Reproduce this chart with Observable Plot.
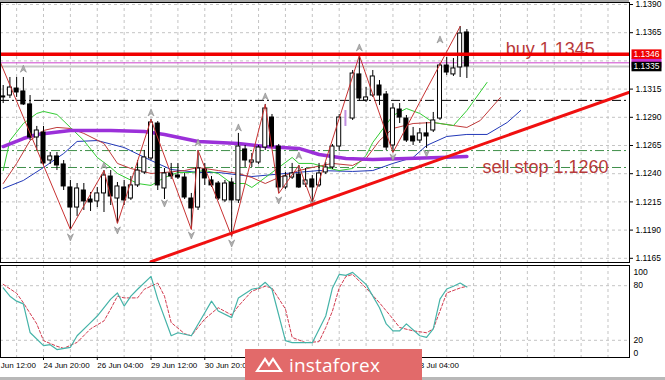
<!DOCTYPE html>
<html><head><meta charset="utf-8">
<script src="https://cdn.jsdelivr.net/npm/d3@7"></script>
<script src="https://cdn.jsdelivr.net/npm/@observablehq/plot@0.6"></script>
<style>
html,body{margin:0;padding:0;background:#fff;}
#wrap{position:relative;width:665px;height:380px;overflow:hidden;font-family:"Liberation Sans",Arial,sans-serif;}
#top{position:absolute;left:0;top:0;}
#bot{position:absolute;left:0;top:263px;}
#topline{position:absolute;left:0;top:0;width:629px;height:2px;background:#a8a8a8;}
#botline{position:absolute;left:0;top:377px;width:665px;height:3px;background:#b8b8b8;}
#logo{position:absolute;left:245px;top:349px;width:177px;height:31px;background:#e26a6a;display:flex;align-items:center;}
#logo svg{margin-left:10px;}
#logo span{color:#fff;font-family:"Open Sans",sans-serif;font-size:19px;margin-left:6px;letter-spacing:0.2px;}
</style></head>
<body><div id="wrap"><div id="top"></div><div id="bot"></div><div id="topline"></div><div id="botline"></div>
<div id="logo"><svg width="28" height="20" viewBox="0 0 28 20"><path d="M2 16 L10 4 L14 10 L18 4 L26 16 Z" fill="none" stroke="#fff" stroke-width="2.2"/></svg><span>instaforex</span></div>
</div>
<script>
// ---- candles (H4 EUR/USD), index = bar number
const open  = [1.13085,1.13093,1.13155,1.13129,1.13014,1.12721,1.12765,1.12517,1.12553,1.12482,1.12278,1.12100,1.12251,1.12171,1.12154,1.12225,1.12375,1.12180,1.12278,1.12180,1.12296,1.12411,1.12535,1.12845,1.12269,1.12402,1.12384,1.12366,1.12180,1.12100,1.12437,1.12340,1.12313,1.12163,1.12322,1.12163,1.12615,1.12499,1.12499,1.12632,1.12898,1.12641,1.12278,1.12366,1.12393,1.12304,1.12349,1.12296,1.12411,1.12455,1.12641,1.12819,1.12889,1.13280,1.13049,1.13093,1.13182,1.13102,1.12650,1.12969,1.12889,1.12730,1.12694,1.12757,1.12783,1.12889,1.13359,1.13280,1.13342,1.13652];
const high  = [1.13182,1.13253,1.13253,1.13253,1.13093,1.12819,1.12819,1.12588,1.12588,1.12517,1.12340,1.12313,1.12313,1.12233,1.12278,1.12428,1.12428,1.12322,1.12340,1.12375,1.12517,1.12606,1.12881,1.12863,1.12446,1.12491,1.12491,1.12402,1.12225,1.12606,1.12491,1.12375,1.12331,1.12340,1.12358,1.12757,1.12650,1.12579,1.12650,1.13014,1.12925,1.12659,1.12411,1.12491,1.12473,1.12446,1.12384,1.12491,1.12499,1.12659,1.12925,1.13014,1.13315,1.13448,1.13164,1.13315,1.13226,1.13129,1.13022,1.13022,1.12916,1.12810,1.12801,1.12854,1.12943,1.13377,1.13430,1.13421,1.13705,1.13678];
const low   = [1.13022,1.13067,1.13076,1.13005,1.12694,1.12606,1.12473,1.12482,1.12428,1.12251,1.11905,1.12021,1.12074,1.12065,1.12100,1.12056,1.12118,1.11959,1.12118,1.12163,1.12278,1.12393,1.12517,1.12251,1.12171,1.12349,1.12349,1.12171,1.11905,1.12074,1.12296,1.12278,1.12163,1.12145,1.11843,1.12136,1.12455,1.12455,1.12482,1.12606,1.12632,1.12225,1.12260,1.12349,1.12269,1.12278,1.12145,1.12278,1.12393,1.12437,1.12597,1.12801,1.12872,1.13040,1.13031,1.13076,1.13005,1.12606,1.12588,1.12845,1.12677,1.12650,1.12668,1.12624,1.12765,1.12872,1.13271,1.13262,1.13253,1.13244];
const close = [1.13076,1.13164,1.13120,1.13014,1.12721,1.12783,1.12491,1.12553,1.12473,1.12287,1.12100,1.12269,1.12154,1.12145,1.12225,1.12384,1.12198,1.12287,1.12163,1.12296,1.12428,1.12544,1.12854,1.12296,1.12402,1.12375,1.12366,1.12189,1.12092,1.12446,1.12358,1.12296,1.12180,1.12313,1.12163,1.12641,1.12517,1.12517,1.12632,1.12978,1.12641,1.12278,1.12375,1.12402,1.12278,1.12340,1.12278,1.12402,1.12455,1.12641,1.12898,1.12960,1.13288,1.13067,1.13076,1.13262,1.13093,1.12632,1.12978,1.12898,1.12694,1.12686,1.12757,1.12730,1.12872,1.13359,1.13297,1.13333,1.13643,1.13350];
const lilacBars = [51];

// ---- Alligator (jaw / teeth / lips) and slow MA
const jawIdx   = [0,3,6,9,11,14,18,22,25,29,32,37,42,47,52,55,58,61,63,66,69,72,75,77];
const jawP     = [1.12269,1.12340,1.12455,1.12579,1.12686,1.12694,1.12632,1.12517,1.12437,1.12411,1.12411,1.12375,1.12402,1.12428,1.12420,1.12428,1.12491,1.12544,1.12650,1.12730,1.12748,1.12748,1.12854,1.12960];
const teethIdx = [0,2,4,6,8,10,12,15,17,19,22,24,27,29,32,35,37,39,41,44,46,49,52,54,56,58,61,64,67,69,71,74];
const teethP   = [1.12313,1.12491,1.12694,1.12783,1.12810,1.12801,1.12757,1.12668,1.12491,1.12446,1.12402,1.12411,1.12428,1.12455,1.12428,1.12402,1.12366,1.12313,1.12366,1.12428,1.12455,1.12491,1.12473,1.12535,1.12694,1.12801,1.12845,1.12854,1.12827,1.12810,1.12872,1.13076];
const lipsIdx  = [0,1,3,5,6,8,10,12,14,16,17,20,22,24,26,28,30,32,34,36,37,39,41,43,44,46,48,50,52,54,55,58,60,62,64,67,69,72];
const lipsP    = [1.12428,1.12694,1.12845,1.12934,1.12952,1.12925,1.12810,1.12694,1.12544,1.12455,1.12402,1.12313,1.12296,1.12366,1.12411,1.12411,1.12428,1.12402,1.12313,1.12313,1.12278,1.12366,1.12455,1.12544,1.12491,1.12491,1.12455,1.12428,1.12446,1.12561,1.12677,1.12916,1.12978,1.12934,1.12854,1.12827,1.12960,1.13209];
const maIdx    = [0,3,5,10,16,21,24,29,35,39,44,47,51,55,60,65,69];
const maP      = [1.12641,1.12712,1.12748,1.12783,1.12783,1.12774,1.12748,1.12686,1.12668,1.12641,1.12624,1.12570,1.12535,1.12526,1.12535,1.12544,1.12553];

// ---- ZigZag and fractals
const zzIdx = [-1,10,15,17,22,28,29,34,39,41,44,46,53,58,68];
const zzP   = [1.13470,1.11905,1.12428,1.11959,1.12881,1.11905,1.12606,1.11843,1.13014,1.12225,1.12473,1.12145,1.13448,1.12588,1.13705];
const fracUpIdx = [-1,3,15,22,29,35,39,44,53,65];
const fracUpP   = [1.13519,1.13331,1.12473,1.12943,1.12677,1.12810,1.13085,1.12561,1.13519,1.13590];
const fracDnIdx = [10,17,24,28,34,41,46,58,63];
const fracDnP   = [1.11835,1.11897,1.12136,1.11852,1.11781,1.12163,1.12136,1.12544,1.12579];

// ---- levels, trend line, notes
const buyLevel = [1.1346];
const magentaLevel = [1.13383];
const bidLevel = [1.1335];
const pivotLevel = [1.1305];
const sellLevels = [1.12605, 1.12455];
const trendIdx = [22, 95];
const trendP   = [1.1162, 1.13161];
const noteIdx  = [81.4, 80.7];
const noteP    = [1.1350, 1.12455];
const noteText = ["buy 1.1345", "sell stop 1.1260"];
const boxP     = [1.13383, 1.1346, 1.1335];
const boxText  = ["1.1338", "1.1346", "1.1335"];

// ---- axes
const priceTicks  = [1.1165,1.1190,1.1215,1.1240,1.1265,1.1290,1.1315,1.1340,1.1365,1.1390];
const priceLabels = [1.1165,1.1190,1.1215,1.1240,1.1265,1.1290,1.1315,1.1365,1.1390];
const timeIdx    = [-2,6,14,22,30,62];
const timeLabels = ["23 Jun 12:00","24 Jun 20:00","26 Jun 04:00","29 Jun 12:00","30 Jun 20:00","8 Jul 04:00"];

// ---- Stochastic
const kIdx = [0,1,2,3,4,6,7,8,10,11,13,14,16,17,18,19,20,22,23,25,26,28,30,31,32,34,35,37,38,39,40,42,43,45,46,48,49,50,51,52,54,56,57,58,59,60,62,63,64,65,66,67,68,69];
const kVal = [77.5,68.5,63,60,28.6,14.1,15.2,9.8,12.3,25,39.5,46.7,65.2,72,57.6,68.5,76.1,90.2,65.2,25,28.3,25,50.3,63,52.2,44.9,66.6,76.1,77.5,83.7,76.1,19.6,17.4,17.4,17.4,46.7,77.5,92.4,91.3,94.6,81.5,55.8,38,30.4,30.4,38,25,23.2,32.6,65.2,76.4,79.4,82.9,78.6];
const dIdx = [0,2,3,5,6,8,9,11,13,15,16,17,18,20,21,23,24,25,27,28,30,32,34,35,37,39,40,42,43,45,47,48,49,50,51,52,54,56,58,59,61,63,64,65,66,68,69];
const dVal = [81.5,71.7,61.2,38,19.6,13.4,11.2,17.7,32.6,41.3,54.4,68.5,66.6,66.6,76.1,82.9,68.5,39.5,27.2,25,43.5,55.8,47.8,57.6,73.9,79.4,77.5,54.4,23.2,17.4,18.5,34,52.2,77.5,90.2,92.4,77.5,61.2,43.5,34,30.4,28.3,32.6,52.2,72,77.5,79.4];
const stochGrid = [80, 20];

// ---------------- build
const pts = (xs, ys) => xs.map((x, k) => ({i: x, p: ys[k]}));
const candles = open.map((o, i) => ({i, o, h: high[i], l: low[i], c: close[i]}));
const normal = candles.filter(d => !lilacBars.includes(d.i));
const bull = normal.filter(d => d.c >= d.o), bear = normal.filter(d => d.c < d.o);
const lilac = candles.filter(d => lilacBars.includes(d.i));
const xDomain = [-0.4, 93.2];
const vGrid = d3.range(2, 93, 4);
const font = "Liberation Sans, Arial, sans-serif";

const arrowUp = {draw(ctx, size){ const s = Math.sqrt(size)/2; ctx.moveTo(0,-s); ctx.lineTo(s*0.85,s); ctx.lineTo(0,s*0.35); ctx.lineTo(-s*0.85,s); ctx.closePath(); }};
const arrowDn = {draw(ctx, size){ const s = Math.sqrt(size)/2; ctx.moveTo(0,s); ctx.lineTo(s*0.85,-s); ctx.lineTo(0,-s*0.35); ctx.lineTo(-s*0.85,-s); ctx.closePath(); }};
const boxSym = {draw(ctx){ ctx.rect(-15, -4.75, 30, 9.5); }};
const grid = {stroke: "#c4c4c4", strokeDasharray: "3,3", strokeWidth: 1};
const dashDot = "9,3,2,3";

const topPlot = Plot.plot({
  width: 665, height: 263,
  marginTop: 2, marginRight: 36, marginBottom: 1, marginLeft: 0,
  style: {fontFamily: font, fontSize: "8.5px", background: "#fff", color: "#000"},
  x: {type: "linear", domain: xDomain, axis: null},
  y: {domain: [1.1165, 1.1390], range: [257.8, 4], axis: null},
  marks: [
    Plot.ruleY(priceTicks, grid),
    Plot.ruleX(vGrid, grid),
    Plot.ruleY(bidLevel, {stroke: "#c8c8c8", strokeWidth: 2}),
    Plot.ruleY(magentaLevel, {stroke: "#cc44cc", strokeWidth: 1}),
    Plot.ruleY(pivotLevel, {stroke: "#000", strokeDasharray: dashDot}),
    Plot.ruleY(sellLevels, {stroke: "#3f8f4a", strokeDasharray: dashDot}),
    Plot.line(pts(jawIdx, jawP), {x: "i", y: "p", stroke: "#2238b8", strokeWidth: 1, clip: true}),
    Plot.line(pts(teethIdx, teethP), {x: "i", y: "p", stroke: "#c03a3a", strokeWidth: 1, clip: true}),
    Plot.line(pts(lipsIdx, lipsP), {x: "i", y: "p", stroke: "#33cc33", strokeWidth: 1, clip: true}),
    Plot.line(pts(maIdx, maP), {x: "i", y: "p", stroke: "#9b30d9", strokeWidth: 3.5, clip: true}),
    Plot.ruleX(normal, {x: "i", y1: "l", y2: "h", stroke: "#000", strokeWidth: 1}),
    Plot.rect(bull, {x1: d => d.i - 0.3, x2: d => d.i + 0.3, y1: "o", y2: "c", fill: "#fff", stroke: "#000", strokeWidth: 1}),
    Plot.rect(bear, {x1: d => d.i - 0.3, x2: d => d.i + 0.3, y1: "c", y2: "o", fill: "#000", stroke: "#000", strokeWidth: 1}),
    Plot.rect(lilac, {x1: d => d.i - 0.15, x2: d => d.i + 0.15, y1: "o", y2: "c", fill: "#c08ee0"}),
    Plot.line(pts(zzIdx, zzP), {x: "i", y: "p", stroke: "#c83232", strokeWidth: 1, clip: true}),
    Plot.dot(pts(fracUpIdx, fracUpP), {x: "i", y: "p", symbol: arrowUp, r: 4, fill: "#b0b0b0", stroke: "#888", strokeWidth: 0.6, clip: true}),
    Plot.dot(pts(fracDnIdx, fracDnP), {x: "i", y: "p", symbol: arrowDn, r: 4, fill: "#b0b0b0", stroke: "#888", strokeWidth: 0.6, clip: true}),
    Plot.line(pts(trendIdx, trendP), {x: "i", y: "p", stroke: "#f01010", strokeWidth: 3, clip: true}),
    Plot.text(noteText.map((t, k) => ({i: noteIdx[k], p: noteP[k], t})), {x: "i", y: "p", text: "t", fill: "#b83a3a", fontSize: 18, fontFamily: font, textAnchor: "middle", lineAnchor: "middle"}),
    Plot.ruleY(buyLevel, {stroke: "#f00000", strokeWidth: 3.5}),
    Plot.axisY(priceLabels, {anchor: "right", tickSize: 3, tickPadding: 3, tickFormat: d => d.toFixed(4), fontSize: 8.5, label: null}),
    Plot.dot(boxP.map((p, k) => ({p, t: boxText[k], k})), {y: "p", frameAnchor: "right", dx: 17, symbol: boxSym, r: 1,
      fill: d => ["#cc33cc", "#f00000", "#000000"][d.k]}),
    Plot.text(boxP.map((p, k) => ({p, t: boxText[k]})).slice(1), {y: "p", text: "t", frameAnchor: "right", dx: 4, textAnchor: "start", fill: "#fff", fontSize: 8.5}),
    Plot.frame({stroke: "#000"})
  ]
});
document.getElementById("top").appendChild(topPlot);

const botPlot = Plot.plot({
  width: 665, height: 117,
  marginTop: 2, marginRight: 36, marginBottom: 23, marginLeft: 0,
  style: {fontFamily: font, fontSize: "8px", background: "#fff", color: "#000"},
  x: {type: "linear", domain: xDomain, axis: null},
  y: {domain: [0, 100], range: [95, 4], axis: null},
  marks: [
    Plot.ruleY(stochGrid, grid),
    Plot.ruleX(vGrid, grid),
    Plot.line(pts(dIdx, dVal), {x: "i", y: "p", stroke: "#d23c50", strokeWidth: 1, strokeDasharray: "3,2"}),
    Plot.line(pts(kIdx, kVal), {x: "i", y: "p", stroke: "#45b3a8", strokeWidth: 1.2}),
    Plot.text(stochGrid, {y: d => d, text: d => String(d), frameAnchor: "right", dx: 4, textAnchor: "start", fontSize: 8.5}),
    Plot.text([100], {y: d => d, text: d => String(d), frameAnchor: "right", dx: 4, dy: 5, textAnchor: "start", fontSize: 8.5}),
    Plot.text([0], {y: d => d, text: d => String(d), frameAnchor: "right", dx: 4, dy: -5, textAnchor: "start", fontSize: 8.5}),
    Plot.axisX(timeIdx, {anchor: "bottom", tickSize: 3, tickPadding: 2, textAnchor: "start", fontSize: 8, label: null,
      tickFormat: d => timeLabels[timeIdx.indexOf(d)]}),
    Plot.frame({stroke: "#000"})
  ]
});
document.getElementById("bot").appendChild(botPlot);
</script>
</body></html>
